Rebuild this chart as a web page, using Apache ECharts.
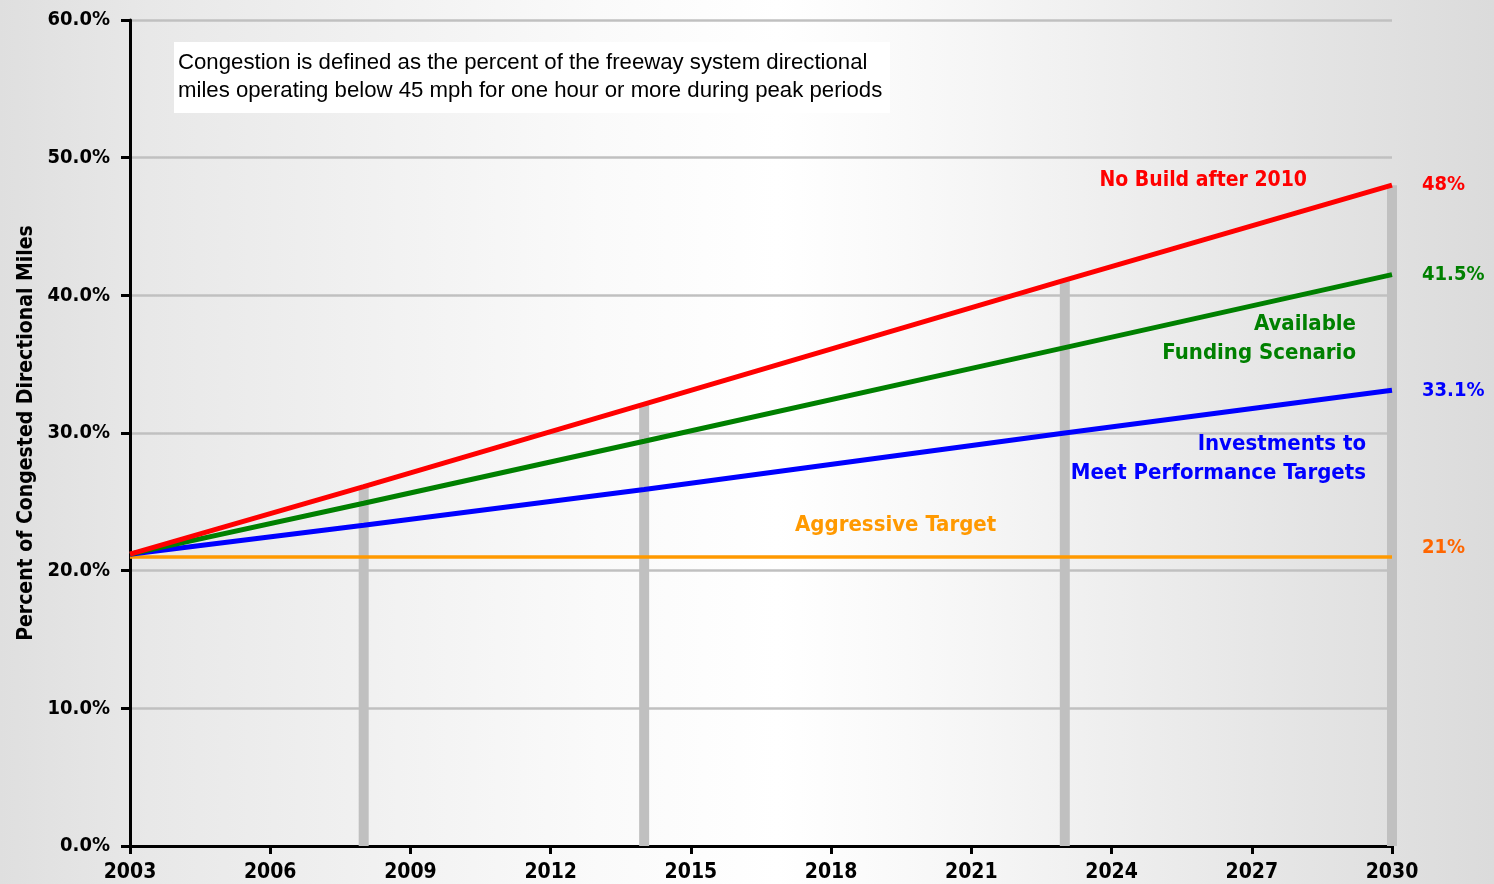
<!DOCTYPE html>
<html lang="en">
<head>
    <meta charset="UTF-8">
    <title>Freeway Congestion Forecast</title>
    <script type="text/javascript" src="https://cdn.jsdelivr.net/npm/echarts@6/dist/echarts.min.js"></script>
    <style>
        html, body { margin: 0; padding: 0; }
        #main {
            width: 1494px; height: 884px;
            background: linear-gradient(to right, #dfdfdf 0%, #e8e8e8 10%, #fafafa 40%, #ffffff 52%, #f6f6f6 65%, #e6e6e6 85%, #dbdbdb 100%);
        }
    </style>
</head>
<body>
<div id="main"></div>
<script type="text/javascript">
    // years read at the vertical markers
    var years = [2003, 2008, 2014, 2023, 2030];
    var noBuild = [21.2, 26.1, 32.1, 41.1, 48];
    var funding = [21.2, 24.9, 29.4, 36.2, 41.5];
    var targets = [21.2, 23.3, 25.9, 30.0, 33.1];
    var aggressive = [21, 21, 21, 21, 21];
    // gray marker bars (height reaches the No Build line)
    var markerYears = [2008, 2014, 2023, 2030];
    var markerHeights = [26.1, 32.1, 41.1, 48];

    var boldFont = "'DejaVu Sans Condensed', 'Liberation Sans Narrow', 'DejaVu Sans', sans-serif";

    function pairs(xs, ys) {
        var out = [];
        for (var i = 0; i < xs.length; i++) out.push([xs[i], ys[i]]);
        return out;
    }

    function lineSeries(name, vals, color, width, labelColor, offset) {
        return {
            name: name,
            type: 'line',
            data: pairs(years, vals),
            symbol: 'none',
            z: 5,
            lineStyle: { color: color, width: width },
            endLabel: {
                show: true,
                distance: 30,
                offset: offset || [0, 0],
                formatter: function (p) { return p.value[1] + '%'; },
                color: labelColor || color,
                fontFamily: boldFont,
                fontWeight: 'bold',
                fontSize: 20
            }
        };
    }

    var myChart = echarts.init(document.getElementById('main'));

    var option = {
        animation: false,
        grid: { left: 130, right: 102, top: 20, bottom: 38 },
        xAxis: {
            type: 'value',
            min: 2003,
            max: 2030,
            interval: 3,
            axisLine: { show: true, onZero: false, lineStyle: { color: '#000', width: 3 } },
            axisTick: { show: true, length: 8, lineStyle: { color: '#000', width: 3 } },
            splitLine: { show: false },
            axisLabel: {
                margin: 16,
                formatter: function (v) { return String(v); },
                color: '#000',
                fontFamily: boldFont,
                fontWeight: 'bold',
                fontSize: 21
            }
        },
        yAxis: {
            type: 'value',
            min: 0,
            max: 60,
            interval: 10,
            name: 'Percent of Congested Directional Miles',
            nameLocation: 'middle',
            nameRotate: 90,
            nameGap: 93,
            nameTextStyle: { color: '#000', fontFamily: boldFont, fontWeight: 'bold', fontSize: 21 },
            axisLine: { show: true, lineStyle: { color: '#000', width: 3 } },
            axisTick: { show: true, length: 9, lineStyle: { color: '#000', width: 3 } },
            splitLine: { show: true, lineStyle: { color: '#c0c0c0', width: 2.5 } },
            axisLabel: {
                margin: 20,
                formatter: function (v) { return v.toFixed(1) + '%'; },
                color: '#000',
                fontFamily: boldFont,
                fontWeight: 'bold',
                fontSize: 20
            }
        },
        series: [
            {
                type: 'bar',
                data: pairs(markerYears, markerHeights),
                barWidth: 10,
                z: 2,
                itemStyle: { color: '#c0c0c0' }
            },
            lineSeries('Aggressive Target', aggressive, '#ff9900', 3.5, '#ff6600', [0, -9]),
            lineSeries('Investments to Meet Performance Targets', targets, '#0000ff', 5),
            lineSeries('Available Funding Scenario', funding, '#008000', 5),
            lineSeries('No Build after 2010', noBuild, '#ff0000', 5)
        ],
        graphic: [
            { type: 'rect', left: 174, top: 42, shape: { width: 716, height: 71 }, style: { fill: '#ffffff' }, z: 10 },
            {
                type: 'text', left: 178, top: 49, z: 11,
                style: {
                    text: 'Congestion is defined as the percent of the freeway system directional\nmiles operating below 45 mph for one hour or more during peak periods',
                    fill: '#000', font: "22.2px 'Liberation Sans', Arial, sans-serif", lineHeight: 28
                }
            },
            { type: 'text', right: 1494 - 1307, top: 170, z: 11, style: { text: 'No Build after 2010', fill: '#ff0000', font: 'bold 21px ' + boldFont } },
            { type: 'text', right: 1494 - 1356, top: 313, z: 11, style: { text: 'Available', fill: '#008000', font: 'bold 22px ' + boldFont } },
            { type: 'text', right: 1494 - 1356, top: 342, z: 11, style: { text: 'Funding Scenario', fill: '#008000', font: 'bold 22px ' + boldFont } },
            { type: 'text', right: 1494 - 1366, top: 433, z: 11, style: { text: 'Investments to', fill: '#0000ff', font: 'bold 22px ' + boldFont } },
            { type: 'text', right: 1494 - 1366, top: 462, z: 11, style: { text: 'Meet Performance Targets', fill: '#0000ff', font: 'bold 22px ' + boldFont } },
            { type: 'text', left: 795, top: 514, z: 11, style: { text: 'Aggressive Target', fill: '#ff9900', font: 'bold 22px ' + boldFont } }
        ]
    };
    myChart.setOption(option);
</script>
</body>
</html>
